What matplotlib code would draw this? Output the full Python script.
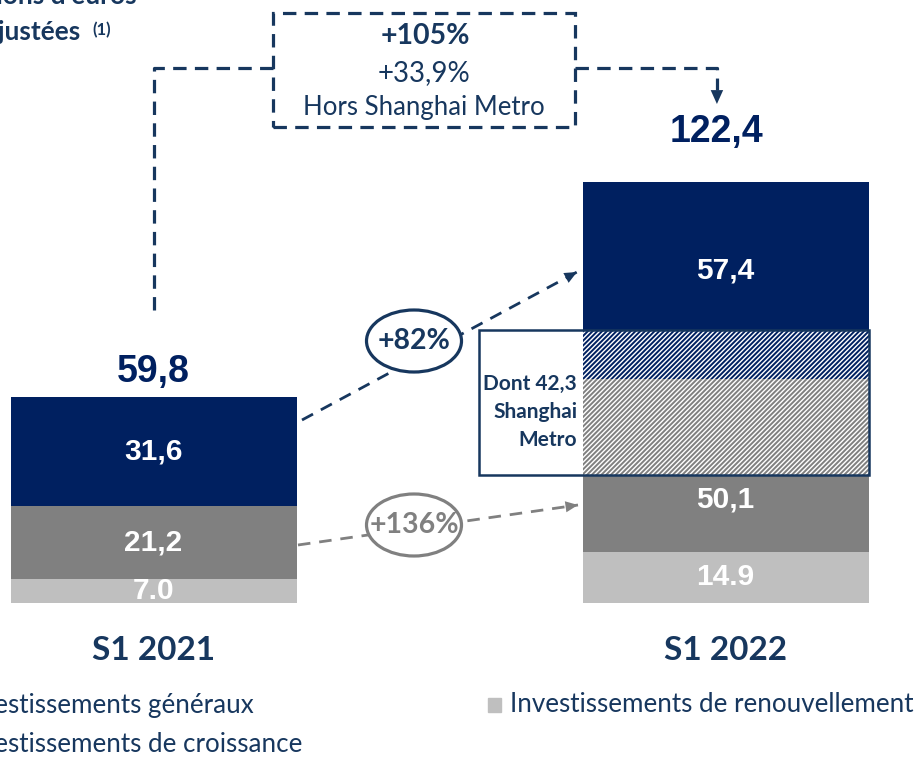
import numpy as np
import matplotlib
matplotlib.use("Agg")
import matplotlib.pyplot as plt
from matplotlib.patches import Rectangle, Ellipse

# values in M EUR
periods = ["S1 2021", "S1 2022"]
renouvellement = np.array([7.0, 14.9])
generaux = np.array([21.2, 50.1])
croissance = np.array([31.6, 57.4])
shanghai_gen = np.array([0.0, 27.8])   # Shanghai Metro part inside "généraux"
shanghai_cro = np.array([0.0, 14.5])   # Shanghai Metro part inside "croissance"
totals = ["59,8", "122,4"]
lbl_ren = ["7.0", "14.9"]
lbl_gen = ["21,2", "50,1"]
lbl_cro = ["31,6", "57,4"]
growth_cro = "+82%"
growth_gen = "+136%"
growth_total = ["+105%", "+33,9%", "Hors Shanghai Metro"]
shanghai_note = "Dont 42,3\nShanghai\nMetro"
legend_names = ["Investissements généraux", "Investissements de croissance",
                "Investissements de renouvellement"]

NAVY = "#002060"
INK = "#17375E"
DARK = "#808080"
LIGHT = "#BFBFBF"

plt.rcParams["hatch.linewidth"] = 1.4
W, H = 918, 758
fig = plt.figure(figsize=(W / 100, H / 100), dpi=100)
ax = fig.add_axes([0, 0, 1, 1])
ax.axis("off")
# 572 px between bar centres, 3.44 px per M EUR, baseline 603 px from top
ax.set_xlim(-153.5 / 572, (W - 153.5) / 572)
ax.set_ylim(-(H - 603) / 3.44, 603 / 3.44)


def px(p):
    return (p - 153.5) / 572


def py(p):
    return (603 - p) / 3.44


def fx(p):
    return p / W


def fy(p):
    return 1 - p / H


x = np.arange(len(periods))
w = 0.5
gen_plain = generaux - shanghai_gen
cro_plain = croissance - shanghai_cro

b = np.zeros(2)
ax.bar(x, renouvellement, w, bottom=b, color=LIGHT, lw=0)
b = b + renouvellement
ax.bar(x, gen_plain, w, bottom=b, color=DARK, lw=0)
b = b + gen_plain
ax.bar(x, shanghai_gen, w, bottom=b, facecolor="white", edgecolor=DARK,
       hatch="///////", lw=0)
b = b + shanghai_gen
ax.bar(x, shanghai_cro, w, bottom=b, facecolor="white", edgecolor=NAVY,
       hatch="///////", lw=0)
b = b + shanghai_cro
ax.bar(x, cro_plain, w, bottom=b, color=NAVY, lw=0)
top = b + cro_plain

lab = dict(family="Liberation Sans", weight="bold", fontsize=21.5,
           color="white", ha="center", va="center")
for i in x:
    ax.text(i, renouvellement[i] / 2, lbl_ren[i], **lab)
    ax.text(i, renouvellement[i] + gen_plain[i] / 2 + (4 if i else 0), lbl_gen[i], **lab)
    ax.text(i, renouvellement[i] + generaux[i] + croissance[i] / 2 + (3 if i else 0),
            lbl_cro[i], **lab)

tot = dict(family="Liberation Sans", weight="bold", fontsize=27, color=NAVY,
           ha="center", va="center")
ax.text(0, top[0] + 7.4, totals[0], **tot)
ax.text(0.985, top[1] + 14.5, totals[1], **tot)

# Shanghai Metro frame
s0 = renouvellement[1] + gen_plain[1]
s1 = s0 + shanghai_gen[1] + shanghai_cro[1]
ax.add_patch(Rectangle((px(479), s0), 1 + w / 2 - px(479), s1 - s0,
                       fill=False, edgecolor=INK, lw=1.8, zorder=4))
ax.text(px(577), py(412), shanghai_note, family="Lato", weight="bold",
        fontsize=15, color=INK, ha="right", va="center", linespacing=1.5)

# category labels
for i in x:
    ax.text(i, py(650), periods[i], family="Lato", weight="bold", fontsize=24,
            color=INK, ha="center", va="center")

# total growth box and connector
dash_big = (0, (4.2, 2.6))
ax.plot([0, 0, px(273)], [top[0] + 25.5, py(68), py(68)], color=INK, lw=2.3,
        linestyle=dash_big)
ax.plot([px(575), 0.985, 0.985], [py(68), py(68), py(90)], color=INK, lw=2.3,
        linestyle=dash_big)
ax.annotate("", xy=(0.985, py(104)), xytext=(0.985, py(89)),
            arrowprops=dict(arrowstyle="-|>,head_width=0.45,head_length=1.0",
                            color=INK, lw=0, shrinkA=0, shrinkB=0))
ax.add_patch(Rectangle((px(273), py(127)), px(575) - px(273), py(13) - py(127),
                       fill=False, edgecolor=INK, lw=2.3, linestyle=dash_big))
ax.text(px(425), py(36), growth_total[0], family="Lato", weight="bold",
        fontsize=20.5, color=INK, ha="center", va="center")
ax.text(px(424), py(73), growth_total[1], family="Lato", fontsize=20,
        color=INK, ha="center", va="center")
ax.text(px(424), py(108), growth_total[2], family="Lato", fontsize=18.5,
        color=INK, ha="center", va="center")


def growth_arrow(p0, p1, color, text, cy):
    ax.plot([p0[0], p1[0]], [p0[1], p1[1]], color=color, lw=2,
            linestyle=(0, (4.5, 3.2)), zorder=2)
    d = np.array(p1) - np.array(p0)
    back = np.array(p1) - d * 0.06
    ax.annotate("", xy=p1, xytext=tuple(back),
                arrowprops=dict(arrowstyle="-|>,head_width=0.4,head_length=0.9",
                                color=color, lw=0, shrinkA=0, shrinkB=0))
    ax.add_patch(Ellipse((px(414), cy), 95 / 572, 62 / 3.44, facecolor="white",
                         edgecolor=color, lw=2.3, zorder=3))
    ax.text(px(414), cy, text, family="Lato", weight="bold", fontsize=20.5,
            color=color, ha="center", va="center", zorder=4)


growth_arrow((px(302), py(420)), (px(577), py(272)), INK, growth_cro, py(341))
growth_arrow((px(298), py(545)), (px(578), py(505)), DARK, growth_gen, py(525))

# header (clipped at the left edge)
fig.text(fx(137), fy(4), "En millions d'euros", family="Lato", weight="bold",
         fontsize=19, color=INK, ha="right", va="baseline")
fig.text(fx(80), fy(40), "Dépenses d'investissement ajustées", family="Lato",
         weight="bold", fontsize=19, color=INK, ha="right", va="baseline")
fig.text(fx(92), fy(35), "(1)", family="Lato", weight="bold", fontsize=12,
         color=INK, ha="left", va="baseline")

# legend
leg_colors = [DARK, NAVY, LIGHT]
leg_pos = [(-41, 705), (-41, 745), (510, 705)]
for name, c, (lx, ly) in zip(legend_names, leg_colors, leg_pos):
    fig.patches.append(Rectangle((fx(lx - 22), fy(ly + 7)), 13 / W, 14 / H,
                                 transform=fig.transFigure, color=c))
    fig.text(fx(lx), fy(ly), name, family="Lato", fontsize=18.7, color=INK,
             ha="left", va="center")

fig.savefig("out.png", dpi=100)
